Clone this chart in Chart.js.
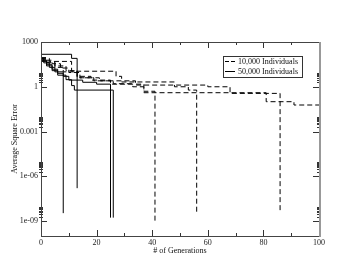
<!DOCTYPE html>
<html>
<head>
<meta charset="utf-8">
<script src="https://cdn.jsdelivr.net/npm/chart.js@4"></script>
<style>
  html, body { margin: 0; padding: 0; background: #fff; }
  #wrap { width: 360px; height: 278px; }
</style>
</head>
<body>
<div id="wrap"><canvas id="chart" width="360" height="278"></canvas></div>
<script>
// 10,000 individuals (dashed runs)
const genD1 = [0, 2, 4, 7, 10, 14, 19, 26, 33, 37, 41];
const errD1 = [90, 60, 35, 18, 9, 4, 2.5, 1.6, 1.0, 0.5, 1e-9];
const genD2 = [0, 3, 11, 27, 29, 48, 53, 56];
const errD2 = [80, 50, 11, 5, 2.1, 1.0, 0.6, 3.4e-9];
const genD3 = [0, 2, 5, 8, 13, 21, 34, 60, 68, 86];
const errD3 = [60, 40, 20, 10, 4, 2.5, 1.3, 1.0, 0.36, 4e-9];
const genD4 = [0, 2, 5, 9, 13, 18, 25, 37, 81, 91, 100];
const errD4 = [70, 45, 25, 12, 5, 2.8, 1.5, 0.4, 0.1, 0.06, 0.06];

// 50,000 individuals (solid runs)
const genS1 = [0, 11, 13];
const errS1 = [150, 80, 1.6e-7];
const genS2 = [0, 2, 4, 6, 8];
const errS2 = [60, 30, 15, 8, 3.4e-9];
const genS3 = [0, 1, 3, 5, 8, 10, 15, 20, 25];
const errS3 = [80, 40, 20, 10, 5, 2.8, 2, 1.5, 1.7e-9];
const genS4 = [0, 2, 4, 6, 9, 11, 12, 26];
const errS4 = [50, 25, 12, 6, 3, 1.2, 0.6, 1.7e-9];

const xTickValues = [0, 20, 40, 60, 80, 100];
const yTickValues = [1e-9, 1e-6, 1e-3, 1, 1e3];
const yTickLabels = ['1e-09', '1e-06', '0.001', '1', '1000'];
const legendLabels = ['10,000 Individuals', '50,000 Individuals'];
const xTitle = '# of Generations';
const yTitle = 'Average Square Error';

const DASH = [5, 3];
const FONT = 'Liberation Serif';

function run(gens, errs, dashed) {
    return {
        data: gens.map(function (g, i) { return { x: g, y: errs[i] }; }),
        borderColor: '#000',
        borderWidth: 1,
        borderDash: dashed ? DASH : [],
        stepped: true,
        pointRadius: 0,
        fill: false
    };
}

const datasets = [
    run(genD1, errD1, true),
    run(genD2, errD2, true),
    run(genD3, errD3, true),
    run(genD4, errD4, true),
    run(genS1, errS1, false),
    run(genS2, errS2, false),
    run(genS3, errS3, false),
    run(genS4, errS4, false)
];

// frame, inward ticks, axis titles and the legend box
const decorations = {
    id: 'decorations',
    afterDraw: function (chart) {
        const ctx = chart.ctx;
        const a = chart.chartArea;
        const xs = chart.scales.x;
        const ys = chart.scales.y;
        ctx.save();
        ctx.lineWidth = 1;
        ctx.strokeStyle = '#333';

        // x ticks, bottom and top
        for (let v = 0; v <= 100; v += 10) {
            const px = Math.round(xs.getPixelForValue(v)) + 0.5;
            const len = v % 20 === 0 ? 6 : 3;
            ctx.beginPath();
            ctx.moveTo(px, a.bottom); ctx.lineTo(px, a.bottom - len);
            ctx.moveTo(px, a.top); ctx.lineTo(px, a.top + len);
            ctx.stroke();
        }
        // y ticks, left and right
        yTickValues.forEach(function (v) {
            const py = Math.round(ys.getPixelForValue(v)) + 0.5;
            ctx.beginPath();
            ctx.moveTo(a.left, py); ctx.lineTo(a.left + 6, py);
            ctx.moveTo(a.right, py); ctx.lineTo(a.right - 6, py);
            ctx.stroke();
            for (let k = 2; k <= 9; k++) {
                if (v * k > ys.max) break;
                const my = Math.round(ys.getPixelForValue(v * k)) + 0.5;
                ctx.beginPath();
                ctx.moveTo(a.left - 2, my); ctx.lineTo(a.left + 2, my);
                ctx.moveTo(a.right - 2, my); ctx.lineTo(a.right + 1, my);
                ctx.stroke();
            }
        });

        // frame
        ctx.strokeStyle = '#444';
        ctx.strokeRect(a.left + 0.5, a.top + 0.5, a.right - a.left, a.bottom - a.top);
        ctx.strokeStyle = '#999';
        ctx.lineWidth = 2;
        ctx.beginPath();
        ctx.moveTo(a.right + 1, a.top); ctx.lineTo(a.right + 1, a.bottom + 1);
        ctx.stroke();

        // axis titles
        ctx.fillStyle = '#111';
        ctx.font = '8px "' + FONT + '"';
        ctx.textAlign = 'center';
        ctx.textBaseline = 'middle';
        ctx.fillText(xTitle, (a.left + a.right) / 2, 251);
        ctx.save();
        ctx.translate(15, (a.top + a.bottom) / 2);
        ctx.rotate(-Math.PI / 2);
        ctx.fillText(yTitle, 0, 0);
        ctx.restore();

        // legend
        const bx = 223, by = 56, bw = 79, bh = 21;
        ctx.lineWidth = 1;
        ctx.strokeStyle = '#333';
        ctx.fillStyle = '#fff';
        ctx.fillRect(bx, by, bw, bh);
        ctx.strokeRect(bx + 0.5, by + 0.5, bw, bh);
        ctx.textAlign = 'left';
        ctx.fillStyle = '#111';
        legendLabels.forEach(function (label, i) {
            const ly = by + 5.5 + i * 10;
            ctx.strokeStyle = '#000';
            ctx.setLineDash(i === 0 ? [4, 2] : []);
            ctx.beginPath();
            ctx.moveTo(bx + 2, ly); ctx.lineTo(bx + 12, ly);
            ctx.stroke();
            ctx.setLineDash([]);
            ctx.fillText(label, bx + 15, ly);
        });
        ctx.restore();
    }
};

new Chart(document.getElementById('chart').getContext('2d'), {
    type: 'line',
    data: { datasets: datasets },
    plugins: [decorations],
    options: {
        responsive: false,
        animation: false,
        layout: { padding: { top: 42, right: 41, left: 0, bottom: 0 } },
        plugins: { legend: { display: false }, tooltip: { enabled: false } },
        scales: {
            x: {
                type: 'linear',
                min: 0,
                max: 100,
                afterBuildTicks: function (scale) {
                    scale.ticks = xTickValues.map(function (v) { return { value: v }; });
                },
                afterFit: function (scale) { scale.height = 42; },
                grid: { display: false, drawTicks: false, tickLength: 0 },
                border: { display: false },
                ticks: { color: '#222', padding: 2, font: { family: FONT, size: 8 } }
            },
            y: {
                type: 'logarithmic',
                min: 1e-10,
                max: 1e3,
                afterBuildTicks: function (scale) {
                    scale.ticks = yTickValues.map(function (v) { return { value: v }; });
                },
                afterFit: function (scale) { scale.width = 41; },
                grid: { display: false, drawTicks: false, tickLength: 0 },
                border: { display: false },
                ticks: {
                    color: '#222',
                    padding: 3,
                    font: { family: FONT, size: 8 },
                    callback: function (value) {
                        const i = yTickValues.indexOf(value);
                        return i >= 0 ? yTickLabels[i] : '';
                    }
                }
            }
        }
    }
});
</script>
</body>
</html>
